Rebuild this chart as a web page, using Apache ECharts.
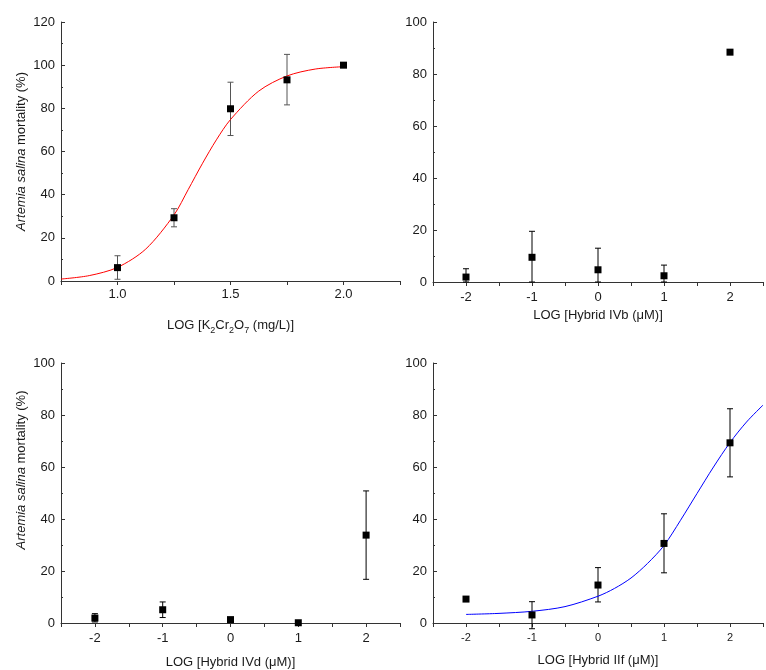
<!DOCTYPE html>
<html>
<head>
<meta charset="utf-8">
<script src="https://cdn.jsdelivr.net/npm/echarts@6/dist/echarts.min.js"></script>
<style>html,body{margin:0;padding:0;background:#fff;}#c{width:766px;height:670px;}</style>
</head>
<body>
<div id="c"></div>
<script>
// Panel 1: K2Cr2O7
const p1X = [1.0, 1.25, 1.5, 1.75, 2.0];
const p1Y = [6.2, 29.3, 79.8, 93.2, 100];
const p1Lo = [0.8, 25.1, 67.4, 81.6, 100];
const p1Hi = [11.7, 33.5, 92.1, 105.0, 100];
const p1FitX = [0.75, 0.875, 1.0, 1.125, 1.25, 1.3125, 1.375, 1.4375, 1.5, 1.625, 1.75, 1.875, 2.0];
const p1FitY = [0.9, 2.5, 6.3, 14.8, 30.6, 42.3, 54.3, 65.4, 74.8, 88.0, 95.0, 98.2, 99.3];

// Panel 2: Hybrid IVb
const p2X = [-2, -1, 0, 1, 2];
const p2Y = [1.9, 9.5, 4.7, 2.4, 88.4];
const p2Lo = [0, 0, 0, 0, 87.6];
const p2Hi = [5.1, 19.5, 13.0, 6.5, 89.2];

// Panel 3: Hybrid IVd
const p3X = [-2, -1, 0, 1, 2];
const p3Y = [1.9, 5.1, 1.3, 0.1, 33.8];
const p3Lo = [0.4, 2.1, 0.5, 0.1, 16.8];
const p3Hi = [3.6, 8.1, 2.1, 0.1, 50.8];

// Panel 4: Hybrid IIf
const p4X = [-2, -1, 0, 1, 2];
const p4Y = [9.2, 3.1, 14.6, 30.6, 69.3];
const p4Lo = [9.2, -2.2, 8.1, 19.3, 56.2];
const p4Hi = [9.2, 8.2, 21.3, 42.0, 82.4];
const p4FitX = [-2, -1.5, -1, -0.5, 0, 0.25, 0.5, 0.75, 1, 1.25, 1.5, 1.75, 2, 2.25, 2.5];
const p4FitY = [3.3, 3.7, 4.5, 6.3, 10.3, 13.3, 17.3, 22.9, 29.8, 39.5, 49.8, 60.0, 69.4, 77.3, 83.8];

// Tick labels
const p1XLabels = [1.0, 1.5, 2.0];
const hybXLabels = [-2, -1, 0, 1, 2];

const FONT = 'Liberation Sans, Arial, sans-serif';
const TXT = '#1a1a1a';
const AX = '#333';

const yTitle = '{i|Artemia salina}{n| mortality (%)}';
const yRich = {
  i: {fontFamily: FONT, fontSize: 13, fontStyle: 'italic', color: TXT},
  n: {fontFamily: FONT, fontSize: 13, color: TXT}
};
const xRich = {
  n: {fontFamily: FONT, fontSize: 13, color: TXT, lineHeight: 16, verticalAlign: 'bottom'},
  s: {fontFamily: FONT, fontSize: 9, color: TXT, lineHeight: 10, verticalAlign: 'bottom', padding: [0, 0, -3, 0]}
};

const grids = [
  {left: 61, top: 22, width: 339, height: 259},
  {left: 433, top: 22, width: 339, height: 260},
  {left: 61, top: 363, width: 339, height: 260},
  {left: 433, top: 363, width: 339, height: 260}
];

function xAxisCfg(i, min, max, interval, labels, fmt, name, gap, labelSize, margin) {
  return {
    type: 'value', gridIndex: i, min: min, max: max, interval: interval,
    name: name, nameLocation: 'middle', nameGap: gap,
    nameTextStyle: {rich: xRich},
    axisLine: {show: true, onZero: false, lineStyle: {color: AX, width: 1}},
    axisTick: {show: true, inside: false, length: 4, lineStyle: {color: AX}},
    splitLine: {show: false},
    axisLabel: {
      fontFamily: FONT, fontSize: labelSize, color: TXT, margin: margin,
      showMinLabel: true, showMaxLabel: true,
      formatter: function (v) {
        for (const l of labels) if (Math.abs(v - l) < 1e-6) return fmt(l);
        return '';
      }
    }
  };
}
function yAxisCfg(i, max, name, gap, namePad) {
  return {
    type: 'value', gridIndex: i, min: 0, max: max, interval: 20,
    name: name, nameLocation: 'middle', nameGap: gap,
    nameTextStyle: {rich: yRich, padding: namePad},
    axisLine: {show: true, onZero: false, lineStyle: {color: AX, width: 1}},
    axisTick: {show: true, inside: true, length: 4, lineStyle: {color: AX}},
    minorTick: {show: true, splitNumber: 2, length: 2, lineStyle: {color: AX}},
    splitLine: {show: false},
    axisLabel: {fontFamily: FONT, fontSize: 13, color: TXT, margin: 6}
  };
}

function errSeries(i, xs, lo, hi, color) {
  return {
    type: 'custom', xAxisIndex: i, yAxisIndex: i, clip: false, z: 3,
    data: xs.map((x, k) => [x, lo[k], hi[k]]),
    renderItem: function (params, api) {
      const x = api.value(0), l = api.value(1), h = api.value(2);
      if (Math.abs(h - l) < 1e-9) return null;
      const a = api.coord([x, l]), b = api.coord([x, h]);
      const st = {stroke: color, lineWidth: 1};
      return {
        type: 'group', children: [
          {type: 'line', shape: {x1: a[0], y1: a[1], x2: b[0], y2: b[1]}, style: st},
          {type: 'line', shape: {x1: a[0] - 3, y1: a[1], x2: a[0] + 3, y2: a[1]}, style: st},
          {type: 'line', shape: {x1: b[0] - 3, y1: b[1], x2: b[0] + 3, y2: b[1]}, style: st}
        ]
      };
    }
  };
}
function ptSeries(i, xs, ys) {
  return {
    type: 'scatter', xAxisIndex: i, yAxisIndex: i, symbol: 'rect', symbolSize: 7,
    itemStyle: {color: '#000', opacity: 1}, z: 5, clip: false,
    data: xs.map((x, k) => [x, ys[k]])
  };
}
function fitSeries(i, xs, ys, color) {
  return {
    type: 'line', xAxisIndex: i, yAxisIndex: i, smooth: 0.3,
    showSymbol: false, symbol: 'none', z: 4,
    lineStyle: {color: color, width: 1},
    data: xs.map((x, k) => [x, ys[k]])
  };
}

const intFmt = l => String(l);
const decFmt = l => l.toFixed(1);

const option = {
  backgroundColor: '#fff',
  animation: false,
  grid: grids,
  xAxis: [
    xAxisCfg(0, 0.75, 2.25, 0.25, p1XLabels, decFmt, '{n|LOG [K}{s|2}{n|Cr}{s|2}{n|O}{s|7}{n| (mg/L)]}', 35, 13, 7),
    xAxisCfg(1, -2.5, 2.5, 0.5, hybXLabels, intFmt, '{n|LOG [Hybrid IVb (μM)]}', 24, 13, 9),
    xAxisCfg(2, -2.5, 2.5, 0.5, hybXLabels, intFmt, '{n|LOG [Hybrid IVd (μM)]}', 30, 13, 9),
    xAxisCfg(3, -2.5, 2.5, 0.5, hybXLabels, intFmt, '{n|LOG [Hybrid IIf (μM)]}', 28, 11, 9)
  ],
  yAxis: [
    yAxisCfg(0, 120, yTitle, 33, [0, 0, 0, 0]),
    yAxisCfg(1, 100, '', 33, [0, 0, 0, 0]),
    yAxisCfg(2, 100, yTitle, 33, [0, 0, 0, 46]),
    yAxisCfg(3, 100, '', 33, [0, 0, 0, 0])
  ],
  series: [
    fitSeries(0, p1FitX, p1FitY, '#ff0000'),
    errSeries(0, p1X, p1Lo, p1Hi, '#555'),
    ptSeries(0, p1X, p1Y),
    errSeries(1, p2X, p2Lo, p2Hi, '#000'),
    ptSeries(1, p2X, p2Y),
    errSeries(2, p3X, p3Lo, p3Hi, '#000'),
    ptSeries(2, p3X, p3Y),
    fitSeries(3, p4FitX, p4FitY, '#0000ff'),
    errSeries(3, p4X, p4Lo, p4Hi, '#000'),
    ptSeries(3, p4X, p4Y)
  ]
};
echarts.init(document.getElementById('c'), null, {renderer: 'canvas'}).setOption(option);
</script>
</body>
</html>
